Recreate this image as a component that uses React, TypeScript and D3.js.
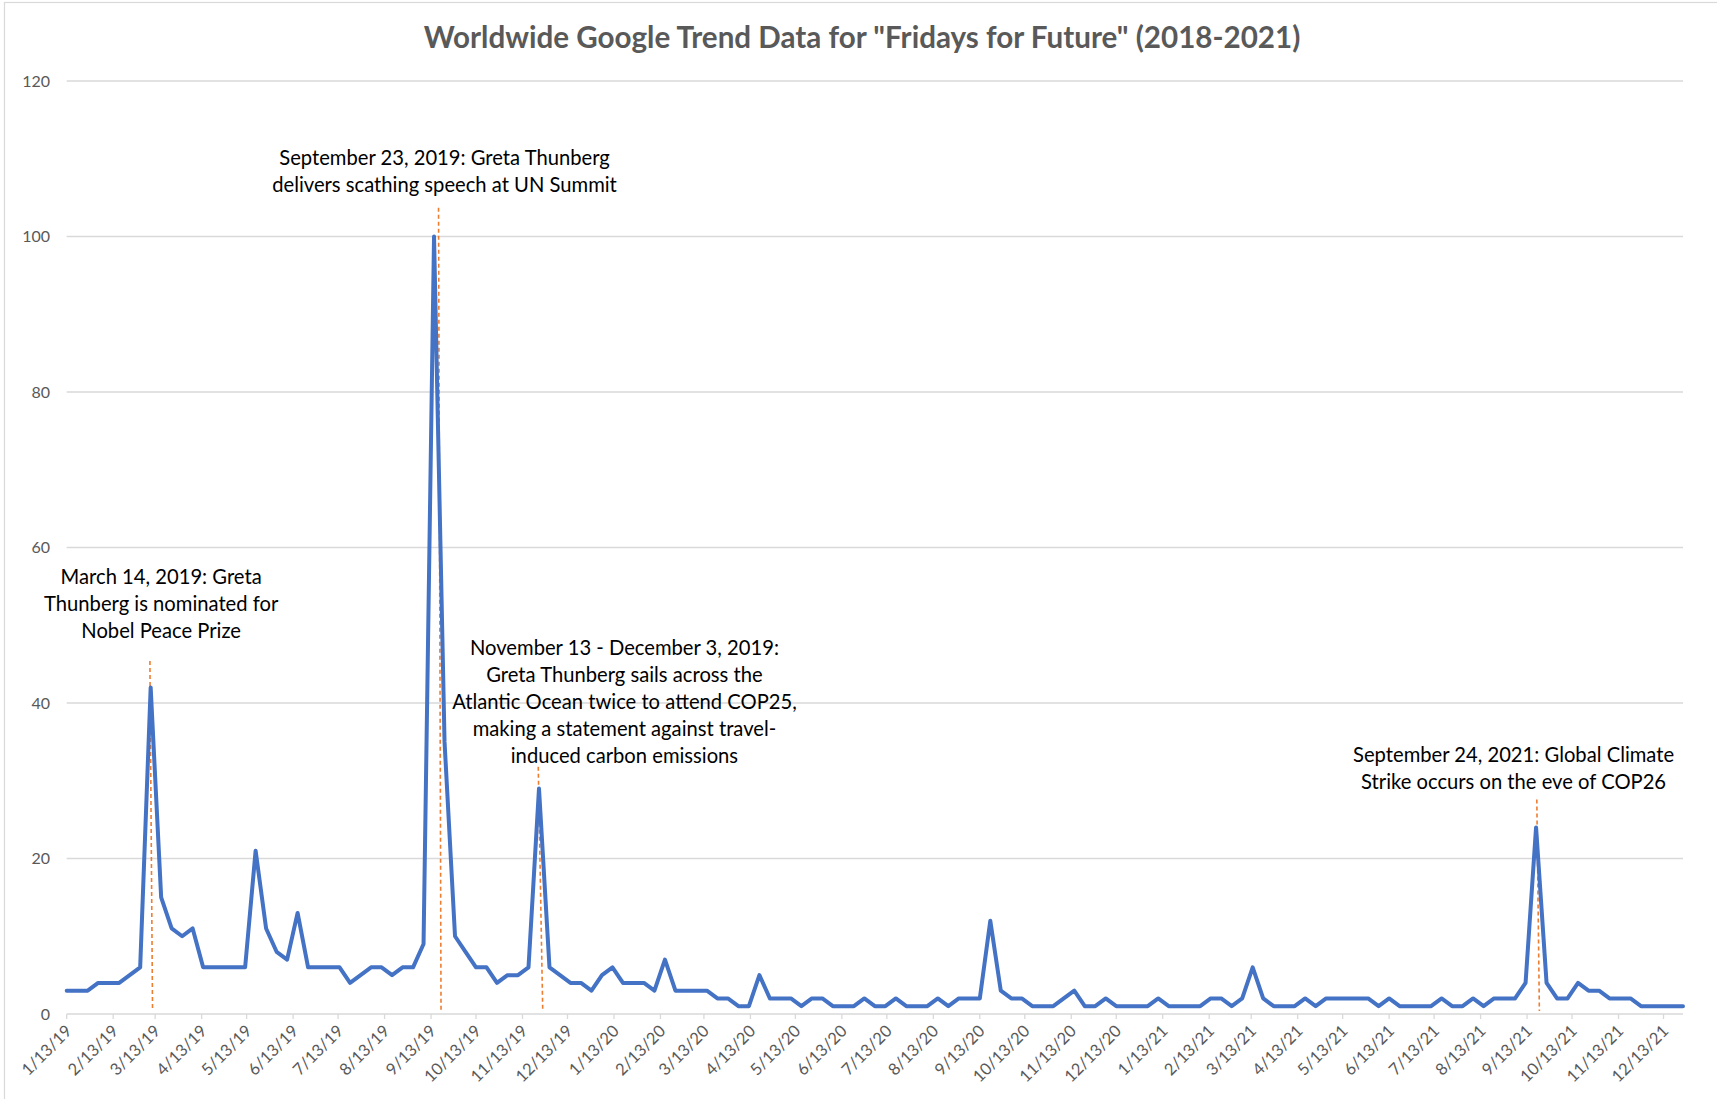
import React from 'react';
import * as d3 from 'd3';

// weekly Google Trends interest, starting Sunday 1/13/19
const startWeek = '2019-01-13';
const interest = [
  3, 3, 3, 4, 4, 4, 5, 6, 42, 15, 11, 10, 11, 6, 6, 6, 6, 6, 21, 11,
  8, 7, 13, 6, 6, 6, 6, 4, 5, 6, 6, 5, 6, 6, 9, 100, 35, 10, 8, 6,
  6, 4, 5, 5, 6, 29, 6, 5, 4, 4, 3, 5, 6, 4, 4, 4, 3, 7, 3, 3,
  3, 3, 2, 2, 1, 1, 5, 2, 2, 2, 1, 2, 2, 1, 1, 1, 2, 1, 1, 2,
  1, 1, 1, 2, 1, 2, 2, 2, 12, 3, 2, 2, 1, 1, 1, 2, 3, 1, 1, 2,
  1, 1, 1, 1, 2, 1, 1, 1, 1, 2, 2, 1, 2, 6, 2, 1, 1, 1, 2, 1,
  2, 2, 2, 2, 2, 1, 2, 1, 1, 1, 1, 2, 1, 1, 2, 1, 2, 2, 2, 4,
  24, 4, 2, 2, 4, 3, 3, 2, 2, 2, 1, 1, 1, 1, 1,
];

const tickLabels = [
  '1/13/19', '2/13/19', '3/13/19', '4/13/19', '5/13/19', '6/13/19',
  '7/13/19', '8/13/19', '9/13/19', '10/13/19', '11/13/19', '12/13/19',
  '1/13/20', '2/13/20', '3/13/20', '4/13/20', '5/13/20', '6/13/20',
  '7/13/20', '8/13/20', '9/13/20', '10/13/20', '11/13/20', '12/13/20',
  '1/13/21', '2/13/21', '3/13/21', '4/13/21', '5/13/21', '6/13/21',
  '7/13/21', '8/13/21', '9/13/21', '10/13/21', '11/13/21', '12/13/21',
];

const yTicks = [0, 20, 40, 60, 80, 100, 120];

// event notes: text centre (date, value), dashed marker (top date, bottom date, top value)
const annotations = [
  {
    lines: ['March 14, 2019: Greta', 'Thunberg is nominated for', 'Nobel Peace Prize'],
    textDate: '2019-03-17 00:00', textValue: 56.2,
    markTop: '2019-03-09 12:00', markBottom: '2019-03-11 06:00', markValue: 45.4,
  },
  {
    lines: ['September 23, 2019: Greta Thunberg', 'delivers scathing speech at UN Summit'],
    textDate: '2019-09-22 00:00', textValue: 110.1,
    markTop: '2019-09-18 00:00', markBottom: '2019-09-19 16:00', markValue: 103.7,
  },
  {
    lines: [
      'November 13 - December 3, 2019:',
      'Greta Thunberg sails across the',
      'Atlantic Ocean twice to attend COP25,',
      'making a statement against travel-',
      'induced carbon emissions',
    ],
    textDate: '2020-01-20 00:00', textValue: 47.1,
    markTop: '2019-11-23 12:00', markBottom: '2019-11-26 12:00', markValue: 31.8,
  },
  {
    lines: ['September 24, 2021: Global Climate', 'Strike occurs on the eve of COP26'],
    textDate: '2021-09-04 00:00', textValue: 33.3,
    markTop: '2021-09-19 12:00', markBottom: '2021-09-21 05:00', markValue: 27.6,
  },
];

const W = 1717;
const H = 1099;
const font = 'Lato, "Open Sans", sans-serif';

const App = () => {
  const parseDay = d3.timeParse('%Y-%m-%d');
  const parseTime = d3.timeParse('%Y-%m-%d %H:%M');
  const parseTick = d3.timeParse('%m/%d/%y');

  const start = parseDay(startWeek) as Date;
  const weeks = d3.timeWeek.range(start, d3.timeWeek.offset(start, interest.length));
  const data = weeks.map((d, i) => ({ date: d, value: interest[i] }));

  const x = d3
    .scaleTime()
    .domain([weeks[0], weeks[weeks.length - 1]])
    .range([66.7, 1683]);
  const y = d3.scaleLinear().domain([0, 120]).range([1014, 81]);

  const line = d3
    .line<{ date: Date; value: number }>()
    .x((d) => x(d.date))
    .y((d) => y(d.value));

  const axisY = y(0);

  return (
    <svg
      width={W}
      height={H}
      style={{ position: 'absolute', left: 0, top: 0, background: '#fff' }}
      fontFamily={font}
    >
      {/* chart frame */}
      <rect x={4.5} y={2.5} width={1800} height={1200} fill="#fff" stroke="#d9d9d9" strokeWidth={1.2} />

      {/* title */}
      <text
        x={862}
        y={38}
        dy="0.35em"
        textAnchor="middle"
        fontSize={29.6}
        fontWeight={700}
        fill="#595959"
      >
        Worldwide Google Trend Data for "Fridays for Future" (2018-2021)
      </text>

      {/* gridlines + y labels */}
      {yTicks.map((t) => (
        <g key={t}>
          <line x1={66.7} x2={1683} y1={y(t)} y2={y(t)} stroke="#d9d9d9" strokeWidth={1.3} />
          <text x={50} y={y(t)} dy="0.35em" textAnchor="end" fontSize={16} fill="#595959">
            {t}
          </text>
        </g>
      ))}

      {/* x ticks + labels */}
      {tickLabels.map((lab) => {
        const tx = x(parseTick(lab) as Date);
        return (
          <g key={lab}>
            <line x1={tx} x2={tx} y1={axisY} y2={axisY + 5} stroke="#d9d9d9" strokeWidth={1.3} />
            <text
              transform={`translate(${tx + 2}, ${axisY + 14}) rotate(-45)`}
              dy="0.35em"
              textAnchor="end"
              fontSize={16.5}
              fill="#595959"
            >
              {lab}
            </text>
          </g>
        );
      })}

      {/* dashed event markers */}
      {annotations.map((a, i) => (
        <line
          key={'m' + i}
          x1={x(parseTime(a.markTop) as Date)}
          x2={x(parseTime(a.markBottom) as Date)}
          y1={y(a.markValue)}
          y2={y(0.4)}
          stroke="#ED7D31"
          strokeWidth={1.6}
          strokeDasharray="4,3"
        />
      ))}

      {/* trend line */}
      <path
        d={line(data) as string}
        fill="none"
        stroke="#4472C4"
        strokeWidth={4}
        strokeLinejoin="round"
        strokeLinecap="round"
      />

      {/* annotation text */}
      {annotations.map((a, i) => {
        const cx = x(parseTime(a.textDate) as Date);
        const cy = y(a.textValue);
        return (
          <text key={'t' + i} textAnchor="middle" fontSize={20.2} fill="#000">
            {a.lines.map((l, j) => (
              <tspan key={j} x={cx} y={cy + j * 27} dy="0.35em">
                {l}
              </tspan>
            ))}
          </text>
        );
      })}
    </svg>
  );
};

export default App;
